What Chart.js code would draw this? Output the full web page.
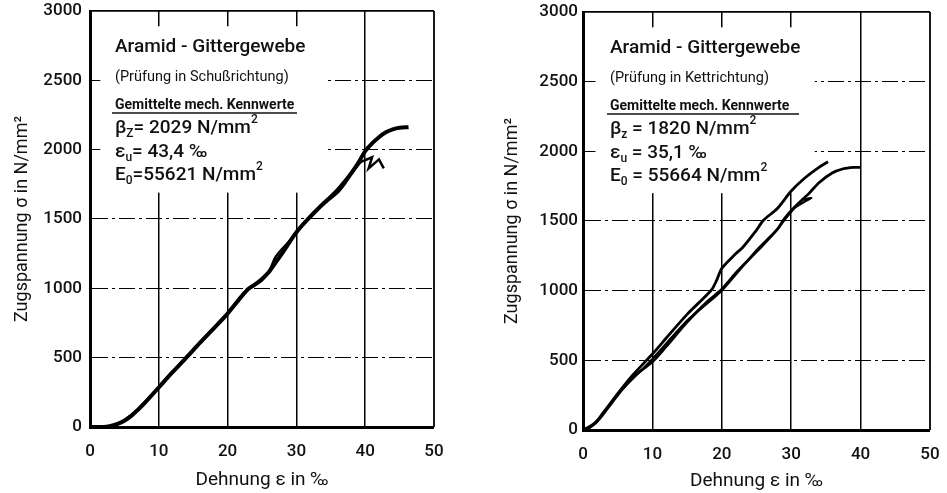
<!DOCTYPE html>
<html>
<head>
<meta charset="utf-8">
<script src="https://cdn.jsdelivr.net/npm/chart.js@4.4.0/dist/chart.umd.min.js"></script>
<style>
  body { margin:0; background:#fff; }
  #wrap { position:relative; width:947px; height:493px; }
  canvas { position:absolute; top:0; }
</style>
</head>
<body>
<div id="wrap">
  <canvas id="links" width="470" height="493" style="left:0"></canvas>
  <canvas id="rechts" width="477" height="493" style="left:470px"></canvas>
</div>
<script>
// Achsen
var xTicks = [0, 10, 20, 30, 40, 50];
var yTicks = [0, 500, 1000, 1500, 2000, 2500, 3000];
var xTitel = 'Dehnung ε in ‰';
var yTitel = 'Zugspannung σ in N/mm²';

// linkes Bild: Schussrichtung
var links1X = [0, 2, 3, 4, 5, 6, 7, 8, 10, 12, 14, 16, 18, 20, 22, 23, 24, 25, 26, 27, 28, 30, 32, 34, 35, 36, 37, 38, 39, 40, 41, 42, 43, 44, 45, 46.3];
var links1Y = [0, 0, 8, 22, 45, 80, 125, 175, 285, 395, 500, 608, 712, 818, 940, 995, 1028, 1068, 1118, 1188, 1258, 1405, 1515, 1615, 1660, 1710, 1768, 1832, 1905, 1990, 2045, 2090, 2125, 2147, 2158, 2162];
var links2X = [0, 3, 5, 7, 10, 14, 18, 20, 22, 23, 25, 26, 27, 28, 30, 32, 34, 36, 37, 38, 39.3];
var links2Y = [0, 0, 50, 130, 290, 505, 716, 822, 945, 992, 1058, 1120, 1228, 1288, 1398, 1522, 1608, 1690, 1750, 1826, 1910];
var links3X = [39.3, 41, 40.5, 42, 42.7];
var links3Y = [1910, 1945, 1865, 1930, 1865];

// rechtes Bild: Kettrichtung
var rechts1X = [0, 1, 2, 3, 5, 7, 10, 12, 15, 18.5, 19.3, 20, 22, 23, 25, 26, 28, 30, 32, 34, 35.3];
var rechts1Y = [0, 22, 65, 130, 262, 385, 545, 660, 830, 1005, 1080, 1160, 1265, 1310, 1435, 1505, 1590, 1715, 1810, 1885, 1925];
var rechts2X = [0, 1, 2, 3, 5, 7, 10, 12, 15, 18, 20, 22, 25, 28, 29, 30.5, 32.6, 34, 35.9, 37.5, 39, 40];
var rechts2Y = [0, 20, 60, 120, 250, 370, 490, 600, 775, 925, 1010, 1125, 1280, 1440, 1515, 1600, 1700, 1775, 1845, 1875, 1885, 1885];
var rechts3X = [0, 2, 5, 10, 15, 20, 25, 28, 29, 30.5, 31.8, 32.9, 31.5];
var rechts3Y = [0, 62, 255, 510, 785, 1000, 1290, 1440, 1505, 1594, 1635, 1666, 1652];

var textLinks = ['Aramid - Gittergewebe', '(Prüfung in Schußrichtung)', 'Gemittelte mech. Kennwerte',
  [['β', 'n'], ['Z', 'sub'], ['= 2029 N/mm', 'n'], ['2', 'sup']],
  [['ε', 'n'], ['u', 'sub'], ['= 43,4 ‰', 'n']],
  [['E', 'n'], ['0', 'sub'], ['=55621 N/mm', 'n'], ['2', 'sup']]];
var textRechts = ['Aramid - Gittergewebe', '(Prüfung in Kettrichtung)', 'Gemittelte mech. Kennwerte',
  [['β', 'n'], ['z', 'sub'], [' = 1820 N/mm', 'n'], ['2', 'sup']],
  [['ε', 'n'], ['u', 'sub'], [' = 35,1 ‰', 'n']],
  [['E', 'n'], ['0', 'sub'], [' = 55664 N/mm', 'n'], ['2', 'sup']]];

var schrift = "Roboto, 'DejaVu Sans', sans-serif";

function punkte(xs, ys){
    return xs.map(function(v, i){ return {x: v, y: ys[i]}; });
}

function zeileZeichnen(ctx, x, y, teile, gr){
    teile.forEach(function(t){
        var f = t[1] == 'n' ? gr : Math.round(gr * 0.62);
        var dy = t[1] == 'sub' ? gr * 0.32 : (t[1] == 'sup' ? -gr * 0.4 : 0);
        ctx.font = '500 ' + f + 'px ' + schrift;
        ctx.fillText(t[0], x, y + dy);
        x += ctx.measureText(t[0]).width;
    });
}

// weisser Kasten hinter dem Text, Rahmen rechts und der Text selbst
var notiz = {
    id: 'notiz',
    beforeDatasetsDraw: function(chart, args, o){
        var c = chart.ctx, a = chart.chartArea, xs = chart.scales.x, ys = chart.scales.y;
        var x1 = xs.getPixelForValue(o.kasten[0]), x2 = xs.getPixelForValue(o.kasten[1]);
        var y1 = ys.getPixelForValue(o.kasten[3]), y2 = ys.getPixelForValue(o.kasten[2]);
        c.save();
        c.fillStyle = '#fff';
        c.fillRect(x1, y1, x2 - x1, y2 - y1);
        c.strokeStyle = '#000';
        c.lineWidth = 1.8;
        c.beginPath();
        c.moveTo(a.right, a.top);
        c.lineTo(a.right, a.bottom);
        c.stroke();
        c.restore();
    },
    afterDatasetsDraw: function(chart, args, o){
        var c = chart.ctx, a = chart.chartArea, t = o.text;
        var x = a.left + o.dx;
        c.save();
        c.fillStyle = '#111';
        c.textBaseline = 'middle';
        c.font = '500 19px ' + schrift;
        c.fillText(t[0], x, a.top + 36);
        c.font = '14.5px ' + schrift;
        c.fillText(t[1], x, a.top + 66);
        c.font = 'bold 14px ' + schrift;
        c.fillText(t[2], x, a.top + 94);
        c.strokeStyle = '#111';
        c.lineWidth = 1.5;
        c.beginPath();
        c.moveTo(x - 3, a.top + 102);
        c.lineTo(x - 3 + o.strich, a.top + 102);
        c.stroke();
        zeileZeichnen(c, x, a.top + 117, t[3], 19);
        zeileZeichnen(c, x, a.top + 141, t[4], 19);
        zeileZeichnen(c, x, a.top + 164, t[5], 19);
        c.restore();
    }
};

function grafik(id, linien, o){
    var ctx = document.getElementById(id);
    return new Chart(ctx, {
        type: 'scatter',
        data: {
            datasets: linien.map(function(l){
                return {
                    data: punkte(l[0], l[1]),
                    showLine: true,
                    borderColor: '#000',
                    borderWidth: l[2],
                    tension: l[3],
                    pointRadius: 0,
                    fill: false
                };
            })
        },
        options: {
            responsive: false,
            animation: false,
            layout: { padding: { left: o.padL, top: o.padT, right: o.padR, bottom: 0 } },
            plugins: {
                legend: { display: false },
                tooltip: { enabled: false },
                notiz: o.notiz
            },
            scales: {
                x: {
                    type: 'linear',
                    min: 0, max: 50,
                    afterFit: function(s){ s.height = o.xH; s.paddingLeft = 0; s.paddingRight = 0; },
                    afterBuildTicks: function(s){ s.ticks = xTicks.map(function(v){ return {value: v}; }); },
                    ticks: {
                        color: '#111', padding: o.xPad,
                        font: { family: schrift, size: 17, weight: '500' },
                        callback: function(v){ return String(v); }
                    },
                    grid: {
                        color: '#000',
                        drawTicks: false,
                        lineWidth: function(c){ return c.tick && (c.tick.value == 0 || c.tick.value == 50) ? 0 : 1.5; }
                    },
                    border: { color: '#000', width: 3 },
                    title: { display: true, text: xTitel, color: '#111', padding: { top: 0, bottom: o.xTitelPad }, font: { family: schrift, size: 19 } }
                },
                y: {
                    type: 'linear',
                    min: 0, max: 3000,
                    afterFit: function(s){ s.width = o.yW; s.paddingTop = 0; s.paddingBottom = 0; },
                    afterBuildTicks: function(s){ s.ticks = yTicks.map(function(v){ return {value: v}; }); },
                    ticks: {
                        color: '#111', padding: o.yPad,
                        font: { family: schrift, size: 17, weight: '500' },
                        callback: function(v){ return String(v); }
                    },
                    grid: {
                        color: '#000',
                        drawTicks: false,
                        lineWidth: function(c){
                            if(!c.tick || c.tick.value == 0) return 0;
                            return c.tick.value == 3000 ? 1.8 : 1.1;
                        }
                    },
                    border: {
                        color: '#000', width: 3,
                        dash: function(c){ return (c.tick && c.tick.value != 3000) ? [16, 4, 3, 4] : []; }
                    },
                    title: { display: true, text: yTitel, color: '#111', padding: { top: 12, bottom: 0 }, font: { family: schrift, size: 18 } }
                }
            }
        },
        plugins: [notiz]
    });
}

grafik('links', [
    [links1X, links1Y, 4, 0.3],
    [links2X, links2Y, 2.5, 0.3],
    [links3X, links3Y, 2.5, 0]
], {
    padL: 0, padT: 11, padR: 36, xH: 66, yW: 90, yPad: 8, xPad: 15, xTitelPad: 1,
    notiz: { text: textLinks, kasten: [1.5, 34, 1690, 2890], dx: 25, strich: 185 }
});

grafik('rechts', [
    [rechts1X, rechts1Y, 2.8, 0.3],
    [rechts2X, rechts2Y, 2.8, 0.3],
    [rechts3X, rechts3Y, 2.2, 0.2]
], {
    padL: 20, padT: 12, padR: 17, xH: 63, yW: 93, yPad: 5, xPad: 15, xTitelPad: 0,
    notiz: { text: textRechts, kasten: [1.8, 33.4, 1700, 2890], dx: 27, strich: 192 }
});
</script>
</body>
</html>
